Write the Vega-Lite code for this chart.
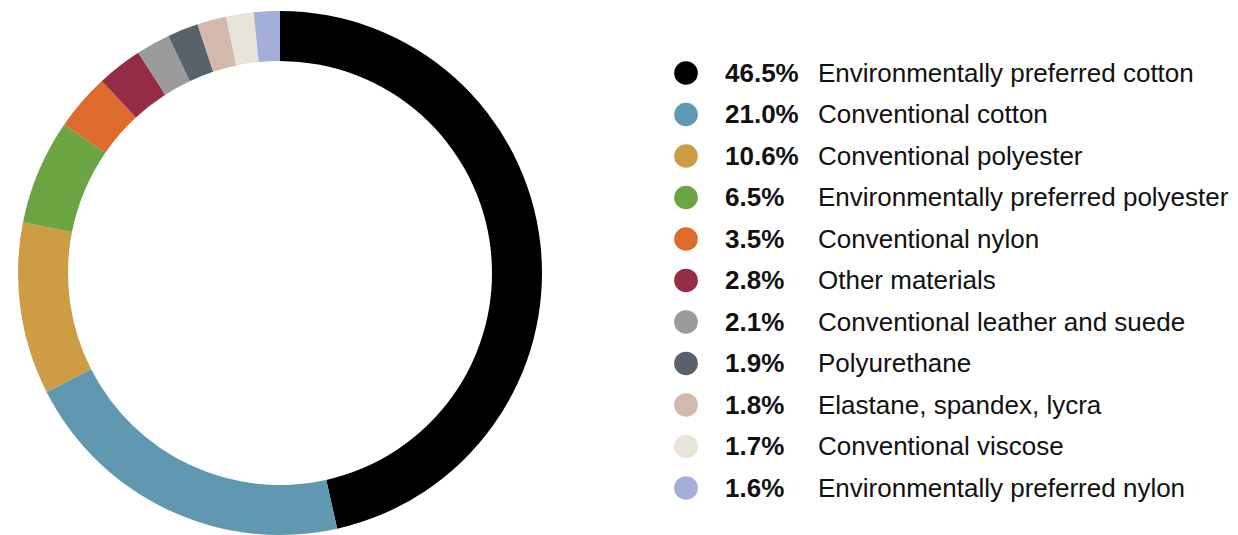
{
  "$schema": "https://vega.github.io/schema/vega-lite/v6.json",
  "padding": 0,
  "spacing": 0,
  "background": "white",
  "config": {"view": {"stroke": null}, "font": "Liberation Sans"},
  "data": {
    "values": [
      {"rank": 1, "name": "Environmentally preferred cotton", "pct": 46.5, "label": "46.5%"},
      {"rank": 2, "name": "Conventional cotton", "pct": 21.0, "label": "21.0%"},
      {"rank": 3, "name": "Conventional polyester", "pct": 10.6, "label": "10.6%"},
      {"rank": 4, "name": "Environmentally preferred polyester", "pct": 6.5, "label": "6.5%"},
      {"rank": 5, "name": "Conventional nylon", "pct": 3.5, "label": "3.5%"},
      {"rank": 6, "name": "Other materials", "pct": 2.8, "label": "2.8%"},
      {"rank": 7, "name": "Conventional leather and suede", "pct": 2.1, "label": "2.1%"},
      {"rank": 8, "name": "Polyurethane", "pct": 1.9, "label": "1.9%"},
      {"rank": 9, "name": "Elastane, spandex, lycra", "pct": 1.8, "label": "1.8%"},
      {"rank": 10, "name": "Conventional viscose", "pct": 1.7, "label": "1.7%"},
      {"rank": 11, "name": "Environmentally preferred nylon", "pct": 1.6, "label": "1.6%"}
    ]
  },
  "hconcat": [
    {
      "width": 560,
      "height": 546,
      "mark": {"type": "arc", "outerRadius": 262, "innerRadius": 212, "stroke": null},
      "encoding": {
        "theta": {"field": "pct", "type": "quantitative", "stack": true},
        "order": {"field": "rank", "type": "quantitative"},
        "color": {
          "field": "name",
          "type": "nominal",
          "legend": null,
          "scale": {
            "domain": ["Environmentally preferred cotton", "Conventional cotton", "Conventional polyester", "Environmentally preferred polyester", "Conventional nylon", "Other materials", "Conventional leather and suede", "Polyurethane", "Elastane, spandex, lycra", "Conventional viscose", "Environmentally preferred nylon"],
            "range": ["#000000", "#6198B1", "#CE9C45", "#6AA443", "#DE6B2C", "#952C45", "#9C9B9C", "#5A6269", "#D2B9AB", "#E8E4DA", "#A3AFD8"]
          }
        }
      }
    },
    {
      "width": 678,
      "height": 546,
      "encoding": {
        "y": {
          "field": "rank",
          "type": "quantitative",
          "axis": null,
          "scale": {"domain": [-0.759, 12.398], "reverse": true, "nice": false, "zero": false}
        }
      },
      "layer": [
        {
          "mark": {"type": "circle", "size": 560, "opacity": 1},
          "encoding": {
            "x": {"datum": 126, "type": "quantitative", "scale": {"domain": [0, 678], "nice": false, "zero": true}, "axis": null},
            "color": {
              "field": "name",
              "type": "nominal",
              "legend": null,
              "scale": {
                "domain": ["Environmentally preferred cotton", "Conventional cotton", "Conventional polyester", "Environmentally preferred polyester", "Conventional nylon", "Other materials", "Conventional leather and suede", "Polyurethane", "Elastane, spandex, lycra", "Conventional viscose", "Environmentally preferred nylon"],
                "range": ["#000000", "#6198B1", "#CE9C45", "#6AA443", "#DE6B2C", "#952C45", "#9C9B9C", "#5A6269", "#D2B9AB", "#E8E4DA", "#A3AFD8"]
              }
            }
          }
        },
        {
          "mark": {"type": "text", "align": "left", "baseline": "middle", "fontSize": 26, "fontWeight": "bold", "color": "#111111", "dy": 1},
          "encoding": {
            "x": {"datum": 165, "type": "quantitative"},
            "text": {"field": "label"}
          }
        },
        {
          "mark": {"type": "text", "align": "left", "baseline": "middle", "fontSize": 26, "color": "#111111", "dy": 1},
          "encoding": {
            "x": {"datum": 258, "type": "quantitative"},
            "text": {"field": "name"}
          }
        }
      ]
    }
  ]
}
